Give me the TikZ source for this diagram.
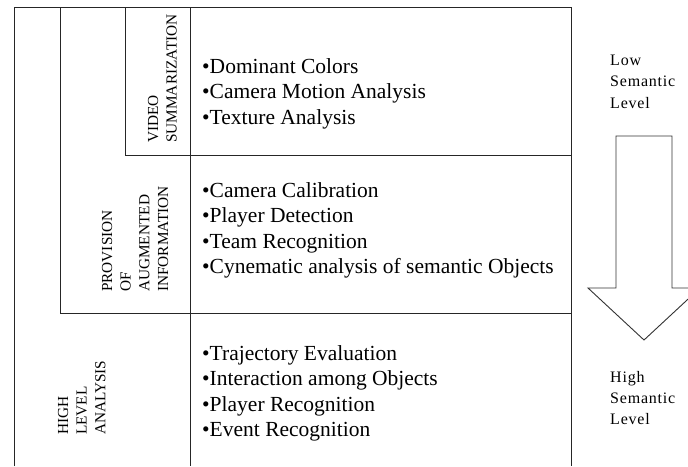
\documentclass[tikz,border=0pt]{standalone}
\usepackage{fontspec}
\setmainfont{Liberation Serif}
\begin{document}
\begin{tikzpicture}[x=1pt,y=-1pt,
  frame/.style={draw=black!85,line width=0.9pt},
  items/.style={anchor=base west,inner sep=0pt,font=\fontsize{21.5}{25.5}\selectfont},
  vlabel/.style={rotate=90,anchor=base west,inner sep=0pt,font=\fontsize{15.3}{18.7}\selectfont},
  side/.style={anchor=base west,inner sep=0pt,font=\fontsize{16}{21.5}\selectfont\addfontfeatures{LetterSpace=5}},
  bigarrow/.style={draw=black!80,line width=0.9pt,fill=white}]
\useasboundingbox (0,0) rectangle (688,466);
\clip (0,0) rectangle (688,466);
% frame lines
\draw[frame] (14,466) -- (14,7) -- (571,7) -- (571,466);
\draw[frame] (190,7) -- (190,466);
\draw[frame] (60,7) -- (60,313) -- (571,313);
\draw[frame] (125,7) -- (125,155) -- (571,155);
% rotated labels
\node[vlabel] (vs1) at (158,143) {VIDEO};
\node[vlabel] (vs2) at (176.5,143) {SUMMARIZATION};
\node[vlabel] (pa1) at (112,292) {PROVISION};
\node[vlabel] (pa2) at (130.7,292) {OF};
\node[vlabel] (pa3) at (149.4,292) {AUGMENTED};
\node[vlabel] (pa4) at (168,292) {INFORMATION};
\node[vlabel] (hl1) at (68,435) {HIGH};
\node[vlabel] (hl2) at (86.7,435) {LEVEL};
\node[vlabel] (hl3) at (105.4,435) {ANALYSIS};
% item lists
\node[items] (vt1) at (202,73) {•Dominant Colors};
\node[items] (vt2) at (202,98.5) {•Camera Motion Analysis};
\node[items] (vt3) at (202,124) {•Texture Analysis};
\node[items] (pt1) at (202,197) {•Camera Calibration};
\node[items] (pt2) at (202,222.5) {•Player Detection};
\node[items] (pt3) at (202,248) {•Team Recognition};
\node[items] (pt4) at (202,273.5) {•Cynematic analysis of semantic Objects};
\node[items] (ht1) at (202,360) {•Trajectory Evaluation};
\node[items] (ht2) at (202,385.5) {•Interaction among Objects};
\node[items] (ht3) at (202,411) {•Player Recognition};
\node[items] (ht4) at (202,436.5) {•Event Recognition};
% side texts
\node[side] (low1) at (610,65) {Low};
\node[side] (low2) at (610,86.5) {Semantic};
\node[side] (low3) at (610,108) {Level};
\node[side] (high1) at (610,382) {High};
\node[side] (high2) at (610,403) {Semantic};
\node[side] (high3) at (610,424) {Level};
% big arrow
\draw[bigarrow] (616,136) -- (672,136) -- (672,288) -- (700,288) -- (644,340) -- (588,288) -- (616,288) -- cycle;
\end{tikzpicture}
\end{document}
